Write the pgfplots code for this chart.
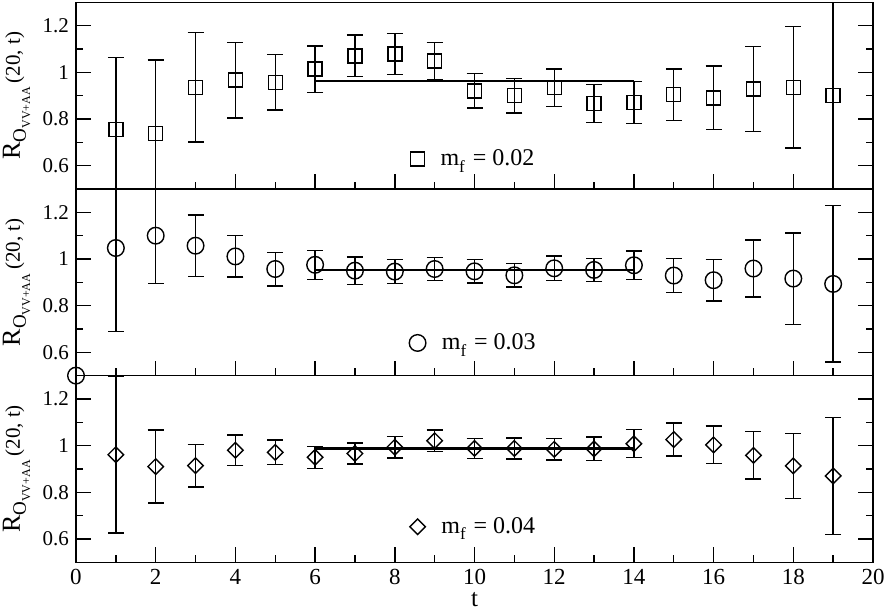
\documentclass[border=0pt]{standalone}
\usepackage{pgfplots}
\pgfplotsset{compat=1.18}
\usepackage{pgfplotstable}
\usepgfplotslibrary{groupplots}
\usepackage{fontspec}
\setmainfont{Liberation Serif}

% t, ratio, error
\pgfplotstableread{
t r e
1 0.756 0.307
2 0.737 0.316
3 0.936 0.235
4 0.967 0.162
5 0.957 0.119
6 1.014 0.099
7 1.071 0.089
8 1.079 0.088
9 1.049 0.080
10 0.921 0.073
11 0.900 0.075
12 0.934 0.080
13 0.866 0.082
14 0.872 0.090
15 0.904 0.110
16 0.891 0.136
17 0.929 0.183
18 0.936 0.260
19 0.900 0.500
}\mfa

\pgfplotstableread{
t r e
1 1.047 0.357
2 1.100 0.204
3 1.057 0.131
4 1.011 0.089
5 0.957 0.072
6 0.975 0.062
7 0.950 0.059
8 0.946 0.052
9 0.957 0.050
10 0.947 0.050
11 0.930 0.050
12 0.960 0.052
13 0.953 0.050
14 0.973 0.062
15 0.929 0.073
16 0.909 0.090
17 0.959 0.122
18 0.916 0.196
19 0.893 0.335
}\mfb

\pgfplotstableread{
t r e
1 0.961 0.335
2 0.910 0.157
3 0.914 0.091
4 0.980 0.065
5 0.971 0.053
6 0.950 0.047
7 0.966 0.045
8 0.993 0.046
9 1.021 0.046
10 0.988 0.043
11 0.988 0.045
12 0.984 0.046
13 0.986 0.050
14 1.008 0.060
15 1.026 0.070
16 1.003 0.081
17 0.958 0.102
18 0.913 0.140
19 0.870 0.250
}\mfc

\newcommand{\rlabel}{{\fontsize{13}{13}\selectfont R}\raisebox{-3pt}{\fontsize{9.5}{9.5}\selectfont O\raisebox{-2.2pt}{\fontsize{6}{6}\selectfont VV+AA}}\hspace{2pt}(20, t)}
\newcommand{\mf}[1]{\hspace*{6pt}m\raisebox{-3.3pt}{\fontsize{8.5}{8.5}\selectfont f}\hspace{1pt} = #1}

\begin{document}
\begin{tikzpicture}
\begin{groupplot}[
    group style={group size=1 by 3, vertical sep=0pt, x descriptions at=edge bottom},
    scale only axis,
    width=398.5pt, height=93.3pt,
    xmin=0, xmax=20, ymin=0.5, ymax=1.3,
    xtick={0,2,...,20}, minor x tick num=1,
    ytick={0.6,0.8,1,1.2}, minor y tick num=1,
    xtick pos=bottom, ytick pos=both,
    tick align=inside,
    major tick length=7.5pt, minor tick length=3.75pt,
    axis line style={line width=0.7pt},
    every tick/.style={black, line width=0.7pt},
    /pgf/number format/assume math mode=true,
    xticklabel style={font=\fontsize{11.5}{12}\selectfont},
    yticklabel style={font=\fontsize{10.5}{11}\selectfont},
    ylabel={\rlabel},
    ylabel style={at={(rel axis cs:-0.0705,0.5)}, anchor=base, font=\fontsize{10.5}{12}\selectfont},
    xlabel={t},
    xlabel style={font=\fontsize{12.5}{12.5}\selectfont, yshift=0.5pt, inner sep=1pt},
    legend style={draw=none, fill=none, font=\fontsize{12}{13}\selectfont, anchor=center},
    legend cell align=left,
    every axis plot/.append style={line width=0.7pt},
    error bars/error bar style={line width=0.7pt},
    error bars/error mark options={rotate=90, mark size=4pt, line width=0.7pt},
]
\nextgroupplot[legend style={at={(rel axis cs:0.50,0.16)}}]
\coordinate (tl) at (rel axis cs:0,1);
\addlegendimage{only marks, mark=square, mark size=3.5pt, line width=0.7pt}
\addlegendentry{\mf{0.02}}
\addplot[black, only marks, mark=square, mark size=3.5pt, forget plot,
    error bars/.cd, y dir=both, y explicit] table[x=t, y=r, y error=e] {\mfa};
\addplot[black, line width=1.2pt, forget plot] coordinates {(6,0.963) (14,0.963)};

\nextgroupplot[legend style={at={(rel axis cs:0.50,0.175)}}]
\addlegendimage{only marks, mark=o, mark size=4.15pt, line width=0.7pt}
\addlegendentry{\mf{0.03}}
\addplot[black, only marks, mark=o, mark size=4.15pt, forget plot,
    error bars/.cd, y dir=both, y explicit] table[x=t, y=r, y error=e] {\mfb};
\addplot[black, only marks, mark=o, mark size=4.15pt, forget plot] coordinates {(0,0.5)};
\addplot[black, line width=1.2pt, forget plot] coordinates {(6,0.953) (14,0.953)};

\nextgroupplot[legend style={at={(rel axis cs:0.50,0.19)}}]
\coordinate (br) at (rel axis cs:1,0);
\addlegendimage{only marks, mark=square, mark size=2.75pt, mark options={rotate=45}, line width=0.7pt}
\addlegendentry{\mf{0.04}}
\addplot[black, only marks, mark=square, mark size=2.75pt, mark options={rotate=45}, forget plot,
    error bars/.cd, y dir=both, y explicit] table[x=t, y=r, y error=e] {\mfc};
\addplot[black, line width=1.2pt, forget plot] coordinates {(6,0.987) (14,0.987)};
\end{groupplot}
\pgfresetboundingbox
\path ([shift={(-38pt,1.2pt)}]tl) rectangle ([shift={(6.5pt,-23.7pt)}]br);
\end{tikzpicture}
\end{document}
